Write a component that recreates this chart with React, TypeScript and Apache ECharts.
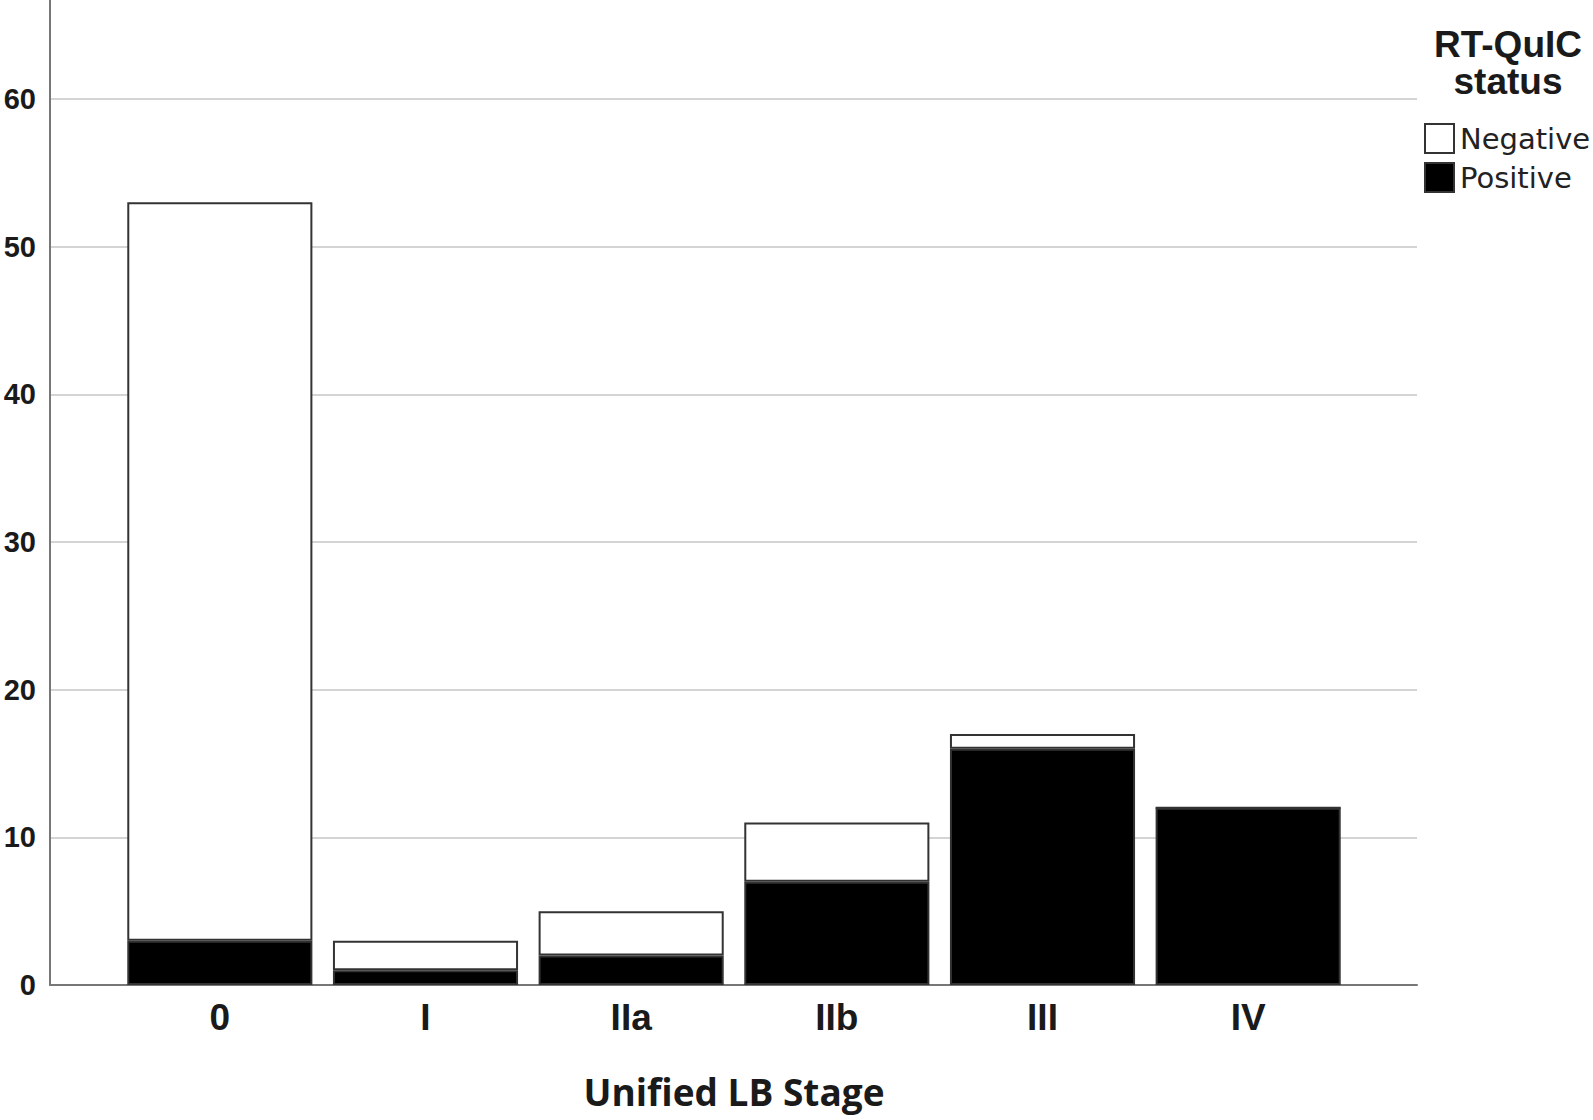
import React, { useEffect, useRef } from 'react';
import * as echarts from 'echarts';

const stages = ['0', 'I', 'IIa', 'IIb', 'III', 'IV'];
const positive = [3, 1, 2, 7, 16, 12];
const negative = [50, 2, 3, 4, 1, 0];
const seriesNames = ['Negative', 'Positive'];
const axisTitle = 'Unified LB Stage';
const legendTitle = 'RT-QuIC\nstatus';
const yMin = 0;
const yMax = 66.7;
const yInterval = 10;

export default function App() {
  const ref = useRef<HTMLDivElement>(null);
  useEffect(() => {
    document.body.style.margin = '0';
    const chart = echarts.init(ref.current!, null, { renderer: 'svg' });
    const sansBold = { fontFamily: 'Liberation Sans', fontWeight: 'bold' as const, color: '#1a1a1a' };
    chart.setOption({
      animation: false,
      backgroundColor: '#ffffff',
      grid: [
        { left: 50, top: 0, width: 1367, height: 985 },
        { left: 117, top: 0, width: 1234, height: 985 },
      ],
      xAxis: [
        {
          type: 'value', gridIndex: 0, min: 0, max: 1,
          axisLine: { show: true, onZero: false, lineStyle: { color: '#777', width: 2 } },
          axisTick: { show: false }, axisLabel: { show: false }, splitLine: { show: false },
        },
        {
          type: 'category', gridIndex: 1, data: stages,
          axisLine: { show: false }, axisTick: { show: false },
          axisLabel: { ...sansBold, fontSize: 37, margin: 14 },
          name: axisTitle, nameLocation: 'middle', nameGap: 88,
          nameTextStyle: { fontFamily: 'Open Sans', fontWeight: 'bold', fontSize: 37, color: '#1a1a1a' },
        },
      ],
      yAxis: [
        {
          type: 'value', gridIndex: 0, min: yMin, max: yMax, interval: yInterval,
          axisLine: { show: true, lineStyle: { color: '#777', width: 2 } },
          axisTick: { show: false },
          axisLabel: { ...sansBold, fontSize: 29, margin: 14, showMaxLabel: false },
          splitLine: { show: true, showMinLine: false, showMaxLine: false, lineStyle: { color: '#d4d4d4', width: 2 } },
        },
        {
          type: 'value', gridIndex: 1, min: yMin, max: yMax, interval: yInterval, show: false,
          splitLine: { show: false },
        },
      ],
      legend: {
        data: seriesNames,
        orient: 'vertical', left: 1424, top: 123, padding: 0,
        itemWidth: 29, itemHeight: 29, itemGap: 8, icon: 'rect',
        textStyle: { fontFamily: 'DejaVu Sans', fontSize: 29, color: '#222', padding: [0, 0, 0, 1] },
      },
      graphic: [
        {
          type: 'text', x: 1508, y: 26,
          style: {
            text: legendTitle, textAlign: 'center', textVerticalAlign: 'top',
            font: 'bold 37px "Liberation Sans"', lineHeight: 37, fill: '#1a1a1a',
          },
        },
      ],
      series: [
        {
          name: seriesNames[1], type: 'bar', stack: 'total', xAxisIndex: 1, yAxisIndex: 1,
          data: positive, barCategoryGap: '10%',
          itemStyle: { color: '#000', borderColor: '#333', borderWidth: 2 },
        },
        {
          name: seriesNames[0], type: 'bar', stack: 'total', xAxisIndex: 1, yAxisIndex: 1,
          data: negative, barCategoryGap: '10%',
          itemStyle: { color: '#fff', borderColor: '#333', borderWidth: 2 },
        },
      ],
    });
    return () => chart.dispose();
  }, []);
  return <div ref={ref} style={{ width: 1593, height: 1120 }} />;
}
